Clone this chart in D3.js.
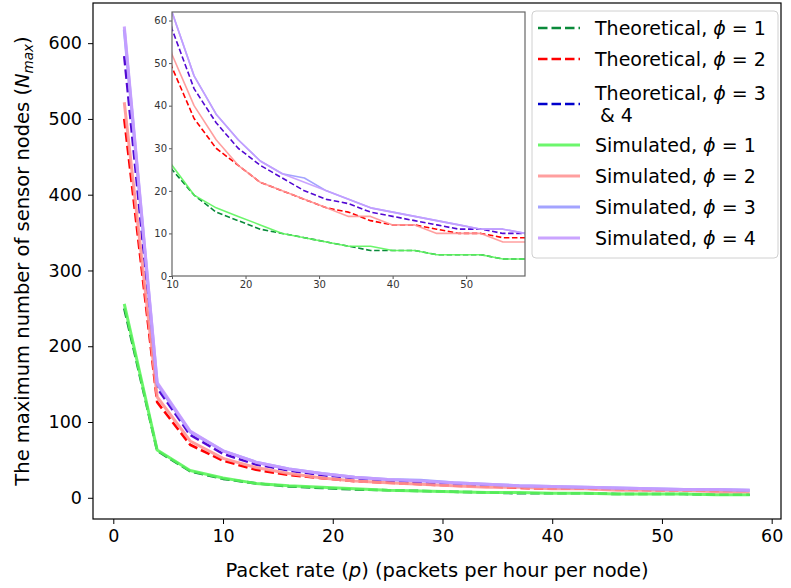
<!DOCTYPE html>
<html>
<head>
<meta charset="utf-8">
<script src="https://cdn.jsdelivr.net/npm/d3@7"></script>
<style>
  body { margin: 0; background: #fff; }
  svg { font-family: "DejaVu Sans", sans-serif; }
</style>
</head>
<body>
<div id="chart"></div>
<script>
// packet rates (packets per hour per node)
var rates = [1, 4, 7, 10, 13, 16, 19, 22, 25, 28, 31, 34, 37, 40, 43, 46, 49, 52, 55, 58];

// theoretical max nodes
var theo1  = [250, 62, 35, 25, 19, 15, 13, 11, 10, 9, 8, 7, 6, 6, 6, 5, 5, 5, 4, 4];
var theo2  = [500, 126, 70, 49, 37, 30, 26, 22, 20, 18, 16, 15, 13, 12, 12, 11, 10, 10, 9, 9];
var theo34 = [583, 145, 83, 58, 44, 36, 30, 26, 23, 20, 18, 17, 15, 14, 13, 12, 11, 11, 10, 10];

// simulated max nodes
var sim1 = [256, 63, 36, 26, 19, 16, 14, 12, 10, 9, 8, 7, 7, 6, 6, 5, 5, 5, 4, 4];
var sim2 = [522, 133, 75, 52, 40, 32, 26, 22, 20, 18, 16, 14, 14, 12, 12, 10, 10, 10, 8, 8];
var sim3 = [618, 150, 87, 62, 47, 38, 32, 27, 24, 23, 20, 18, 16, 15, 14, 13, 12, 11, 11, 10];
var sim4 = [622, 152, 88, 62, 47, 38, 32, 27, 24, 22, 20, 18, 16, 15, 14, 13, 12, 11, 11, 10];

var xTicks = [0, 10, 20, 30, 40, 50, 60];
var yTicks = [0, 100, 200, 300, 400, 500, 600];
var insetXTicks = [10, 20, 30, 40, 50];
var insetYTicks = [0, 10, 20, 30, 40, 50, 60];

// line colour in plot can differ from legend swatch (3 & 4 overlap shows purple)
var series = [
  {name: "Theoretical, ", phi: "1", vals: theo1, color: "#0a8a3a", dash: true},
  {name: "Theoretical, ", phi: "2", vals: theo2, color: "#ff0000", dash: true},
  {name: "Theoretical, ", phi: "3", extra: "& 4", vals: theo34, color: "#0000cc", plotColor: "#5208d2", dash: true},
  {name: "Simulated, ", phi: "1", vals: sim1, color: "#5cf55c", op: 0.9},
  {name: "Simulated, ", phi: "2", vals: sim2, color: "#ff9595", op: 0.9},
  {name: "Simulated, ", phi: "3", vals: sim3, color: "#9999ff", op: 0.9},
  {name: "Simulated, ", phi: "4", vals: sim4, color: "#c69cff", op: 0.92}
];

var width = 791, height = 588;
var svg = d3.select("#chart").append("svg")
  .attr("width", width).attr("height", height);

var x = d3.scaleLinear().domain([-1.85, 60.85]).range([93, 781]);
var y = d3.scaleLinear().domain([-28, 653]).range([519, 3]);

function drawLines(g, xs, ys, lw, dash) {
  series.forEach(function (s) {
    var line = d3.line()
      .x(function (d, i) { return xs(rates[i]); })
      .y(function (d) { return ys(d); });
    g.append("path")
      .datum(s.vals)
      .attr("d", line)
      .attr("fill", "none")
      .attr("stroke", s.plotColor || s.color)
      .attr("stroke-opacity", s.op || 1)
      .attr("stroke-width", s.dash ? lw[0] : lw[1])
      .attr("stroke-dasharray", s.dash ? dash : null)
      .attr("stroke-linejoin", "round");
  });
}

// main axes
var main = svg.append("g");
svg.append("clipPath").attr("id", "clipMain").append("rect")
  .attr("x", 93).attr("y", 3).attr("width", 688).attr("height", 516);
drawLines(main.append("g").attr("clip-path", "url(#clipMain)"), x, y, [2.6, 3], "9.5,4");

var xAxis = svg.append("g").attr("transform", "translate(0,519)")
  .call(d3.axisBottom(x).tickValues(xTicks).tickSize(5).tickPadding(6));
var yAxis = svg.append("g").attr("transform", "translate(93,0)")
  .call(d3.axisLeft(y).tickValues(yTicks).tickSize(5).tickPadding(6));
[xAxis, yAxis].forEach(function (a) {
  a.select(".domain").remove();
  a.selectAll("text").attr("font-size", 17.5).attr("fill", "#000")
    .attr("font-family", "DejaVu Sans");
  a.selectAll("line").attr("stroke", "#000").attr("stroke-width", 1);
});
svg.append("rect").attr("x", 93).attr("y", 3).attr("width", 688).attr("height", 516)
  .attr("fill", "none").attr("stroke", "#000").attr("stroke-width", 1.2);

// axis labels
var xl = svg.append("text").attr("x", 437).attr("y", 577)
  .attr("text-anchor", "middle").attr("font-size", 19.5);
xl.append("tspan").text("Packet rate (");
xl.append("tspan").attr("font-style", "italic").text("p");
xl.append("tspan").text(") (packets per hour per node)");

var yl = svg.append("text").attr("transform", "translate(29,261) rotate(-90)")
  .attr("text-anchor", "middle").attr("font-size", 19.5);
yl.append("tspan").text("The maximum number of sensor nodes (");
yl.append("tspan").attr("font-style", "italic").text("N");
yl.append("tspan").attr("font-style", "italic").attr("font-size", 13.5).attr("dy", 4).text("max");
yl.append("tspan").attr("dy", -4).text(")");

// inset
var ix = d3.scaleLinear().domain([10, 58]).range([172, 525]);
var iy = d3.scaleLinear().domain([0, 62]).range([276, 12]);
svg.append("rect").attr("x", 172).attr("y", 12).attr("width", 353).attr("height", 264)
  .attr("fill", "#fff");
svg.append("clipPath").attr("id", "clipInset").append("rect")
  .attr("x", 172).attr("y", 12).attr("width", 353).attr("height", 264);
drawLines(svg.append("g").attr("clip-path", "url(#clipInset)"), ix, iy, [1.6, 1.6], "5.5,2.6");
var ixAxis = svg.append("g").attr("transform", "translate(0,276)")
  .call(d3.axisBottom(ix).tickValues(insetXTicks).tickSize(3).tickPadding(2));
var iyAxis = svg.append("g").attr("transform", "translate(172,0)")
  .call(d3.axisLeft(iy).tickValues(insetYTicks).tickSize(3).tickPadding(2));
[ixAxis, iyAxis].forEach(function (a) {
  a.select(".domain").remove();
  a.selectAll("text").attr("font-size", 10).attr("fill", "#333")
    .attr("font-family", "DejaVu Sans");
  a.selectAll("line").attr("stroke", "#555");
});
svg.append("rect").attr("x", 172).attr("y", 12).attr("width", 353).attr("height", 264)
  .attr("fill", "none").attr("stroke", "#666").attr("stroke-width", 1.2);

// legend
var leg = svg.append("g");
leg.append("rect").attr("x", 532).attr("y", 11).attr("width", 246).attr("height", 247)
  .attr("rx", 4).attr("fill", "#fff").attr("fill-opacity", 0.85)
  .attr("stroke", "#d0d0d0").attr("stroke-width", 1);
var rowY = [28, 59, 104, 145, 176, 207, 238];
series.forEach(function (s, i) {
  var yy = rowY[i];
  leg.append("line").attr("x1", 538).attr("x2", 580).attr("y1", yy).attr("y2", yy)
    .attr("stroke", s.color).attr("stroke-opacity", s.op || 1)
    .attr("stroke-width", s.dash ? 2.6 : 3)
    .attr("stroke-dasharray", s.dash ? "9.5,4" : null);
  var ty = s.extra ? yy - 11 : yy;
  var t = leg.append("text").attr("x", 595).attr("y", ty).attr("dy", "0.35em")
    .attr("font-size", 19);
  t.append("tspan").text(s.name);
  t.append("tspan").attr("font-style", "italic").text("ϕ");
  t.append("tspan").text(" = " + s.phi);
  if (s.extra) {
    leg.append("text").attr("x", 600).attr("y", yy + 11).attr("dy", "0.35em")
      .attr("font-size", 19).text(s.extra);
  }
});
</script>
</body>
</html>
